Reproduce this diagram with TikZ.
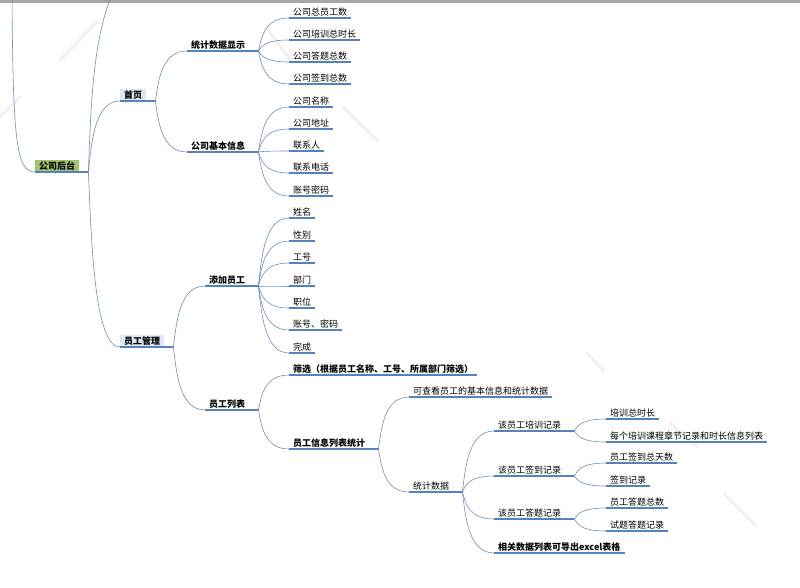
\documentclass[tikz,border=0pt]{standalone}
\usepackage{fontspec}
\setmainfont{Noto Sans CJK SC}
\usetikzlibrary{calc}
\definecolor{ulblue}{RGB}{84,130,190}
\definecolor{lnblue}{RGB}{110,140,185}
\definecolor{rootgreen}{RGB}{160,196,104}
\definecolor{hubblue}{RGB}{222,232,244}
\tikzset{
    topic/.style={anchor=south west,inner xsep=4pt,inner ysep=1.5pt,font=\fontsize{9}{10}\selectfont,
        append after command={(\tikzlastnode.south west) edge[uline] (\tikzlastnode.south east)}},
    main/.style={topic,font=\fontsize{9}{10}\selectfont\bfseries},
    fork/.style={append after command={(\tikzlastnode.south east) edge[uline] ([xshift=9pt]\tikzlastnode.south east)}},
    hub/.style={main,fork,fill=hubblue},
    uline/.style={draw=ulblue,line width=1.6pt},
    link/.style={draw=lnblue,line width=0.6pt},
    branch/.style={to path={([xshift=9pt]\tikztostart) .. controls ($(\tikztostart)!0.4!(\tikztostart |- \tikztotarget)+(12pt,0)$)
        and ($(\tikztostart |- \tikztotarget)+(15pt,0)$) .. (\tikztotarget)}},
    wmark/.style={draw=gray!12,line width=3pt,line cap=round}
}
\begin{document}
\begin{tikzpicture}[x=1pt,y=-1pt]
    \useasboundingbox (0,0) rectangle (800,587);
    \clip (0,0) rectangle (800,587);
    % watermark
    \draw[wmark] (60,60) -- (97,22);
    \draw[wmark] (0,117) -- (20,97);
    \draw[wmark] (268,30) -- (292,62);
    \draw[wmark] (343,107) -- (378,141);
    \draw[wmark] (587,353) -- (604,371);
    \draw[wmark] (670,423) -- (697,447);
    \draw[wmark] (724,494) -- (755,525);
    \fill[gray!70] (0,0) rectangle (800,3);

    \node[main,fork,fill=rootgreen] (gs) at (35,172) {公司后台};
    \node[hub] (sy) at (120,101) {首页};
    \node[hub] (yg) at (120,347) {员工管理};
    \coordinate (in) at (12,-5);
    \coordinate (up) at (150,-35);

    \node[main,fork] (tj) at (187,51) {统计数据显示};
    \node[main,fork] (jb) at (187,152) {公司基本信息};
    \node[topic] (tj1) at (289,18) {公司总员工数};
    \node[topic] (tj2) at (289,40) {公司培训总时长};
    \node[topic] (tj3) at (289,62) {公司答题总数};
    \node[topic] (tj4) at (289,84) {公司签到总数};
    \node[topic] (jb1) at (289,107) {公司名称};
    \node[topic] (jb2) at (289,129) {公司地址};
    \node[topic] (jb3) at (289,151) {联系人};
    \node[topic] (jb4) at (289,173) {联系电话};
    \node[topic] (jb5) at (289,196) {账号密码};

    \node[main,fork] (tx) at (205,286) {添加员工};
    \node[topic] (tx1) at (289,218) {姓名};
    \node[topic] (tx2) at (289,241) {性别};
    \node[topic] (tx3) at (289,263) {工号};
    \node[topic] (tx4) at (289,286) {部门};
    \node[topic] (tx5) at (289,308) {职位};
    \node[topic] (tx6) at (289,330) {账号、密码};
    \node[topic] (tx7) at (289,353) {完成};

    \node[main,fork] (lb) at (205,410) {员工列表};
    \node[main] (sx) at (289,375) {筛选（根据员工名称、工号、所属部门筛选）};
    \node[main,fork] (xx) at (289,449) {员工信息列表统计};
    \node[topic] (ck) at (409,397) {可查看员工的基本信息和统计数据};
    \node[topic,fork] (sj) at (409,492) {统计数据};
    \node[topic,fork] (px) at (494,431) {该员工培训记录};
    \node[topic,fork] (qd) at (494,476) {该员工签到记录};
    \node[topic,fork] (dt) at (494,519) {该员工答题记录};
    \node[main] (dc) at (494,553) {相关数据列表可导出excel表格};
    \node[topic] (px1) at (606,419) {培训总时长};
    \node[topic] (px2) at (606,442) {每个培训课程章节记录和时长信息列表};
    \node[topic] (qd1) at (606,463) {员工签到总天数};
    \node[topic] (qd2) at (606,486) {签到记录};
    \node[topic] (dt1) at (606,508) {员工答题总数};
    \node[topic] (dt2) at (606,531) {试题答题记录};

    \draw[link] (in) .. controls (13,140) and (16,172) .. (gs.south west);
    \path[link]
        (gs.south east) edge[branch] (up)
                        edge[branch] (sy.south west)
                        edge[branch] (yg.south west)
        (sy.south east) edge[branch] (tj.south west)
                        edge[branch] (jb.south west)
        (tj.south east) edge[branch] (tj1.south west)
                        edge[branch] (tj2.south west)
                        edge[branch] (tj3.south west)
                        edge[branch] (tj4.south west)
        (jb.south east) edge[branch] (jb1.south west)
                        edge[branch] (jb2.south west)
                        edge[branch] (jb3.south west)
                        edge[branch] (jb4.south west)
                        edge[branch] (jb5.south west)
        (yg.south east) edge[branch] (tx.south west)
                        edge[branch] (lb.south west)
        (tx.south east) edge[branch] (tx1.south west)
                        edge[branch] (tx2.south west)
                        edge[branch] (tx3.south west)
                        edge[branch] (tx4.south west)
                        edge[branch] (tx5.south west)
                        edge[branch] (tx6.south west)
                        edge[branch] (tx7.south west)
        (lb.south east) edge[branch] (sx.south west)
                        edge[branch] (xx.south west)
        (xx.south east) edge[branch] (ck.south west)
                        edge[branch] (sj.south west)
        (sj.south east) edge[branch] (px.south west)
                        edge[branch] (qd.south west)
                        edge[branch] (dt.south west)
                        edge[branch] (dc.south west)
        (px.south east) edge[branch] (px1.south west)
                        edge[branch] (px2.south west)
        (qd.south east) edge[branch] (qd1.south west)
                        edge[branch] (qd2.south west)
        (dt.south east) edge[branch] (dt1.south west)
                        edge[branch] (dt2.south west)
    ;
\end{tikzpicture}
\end{document}
